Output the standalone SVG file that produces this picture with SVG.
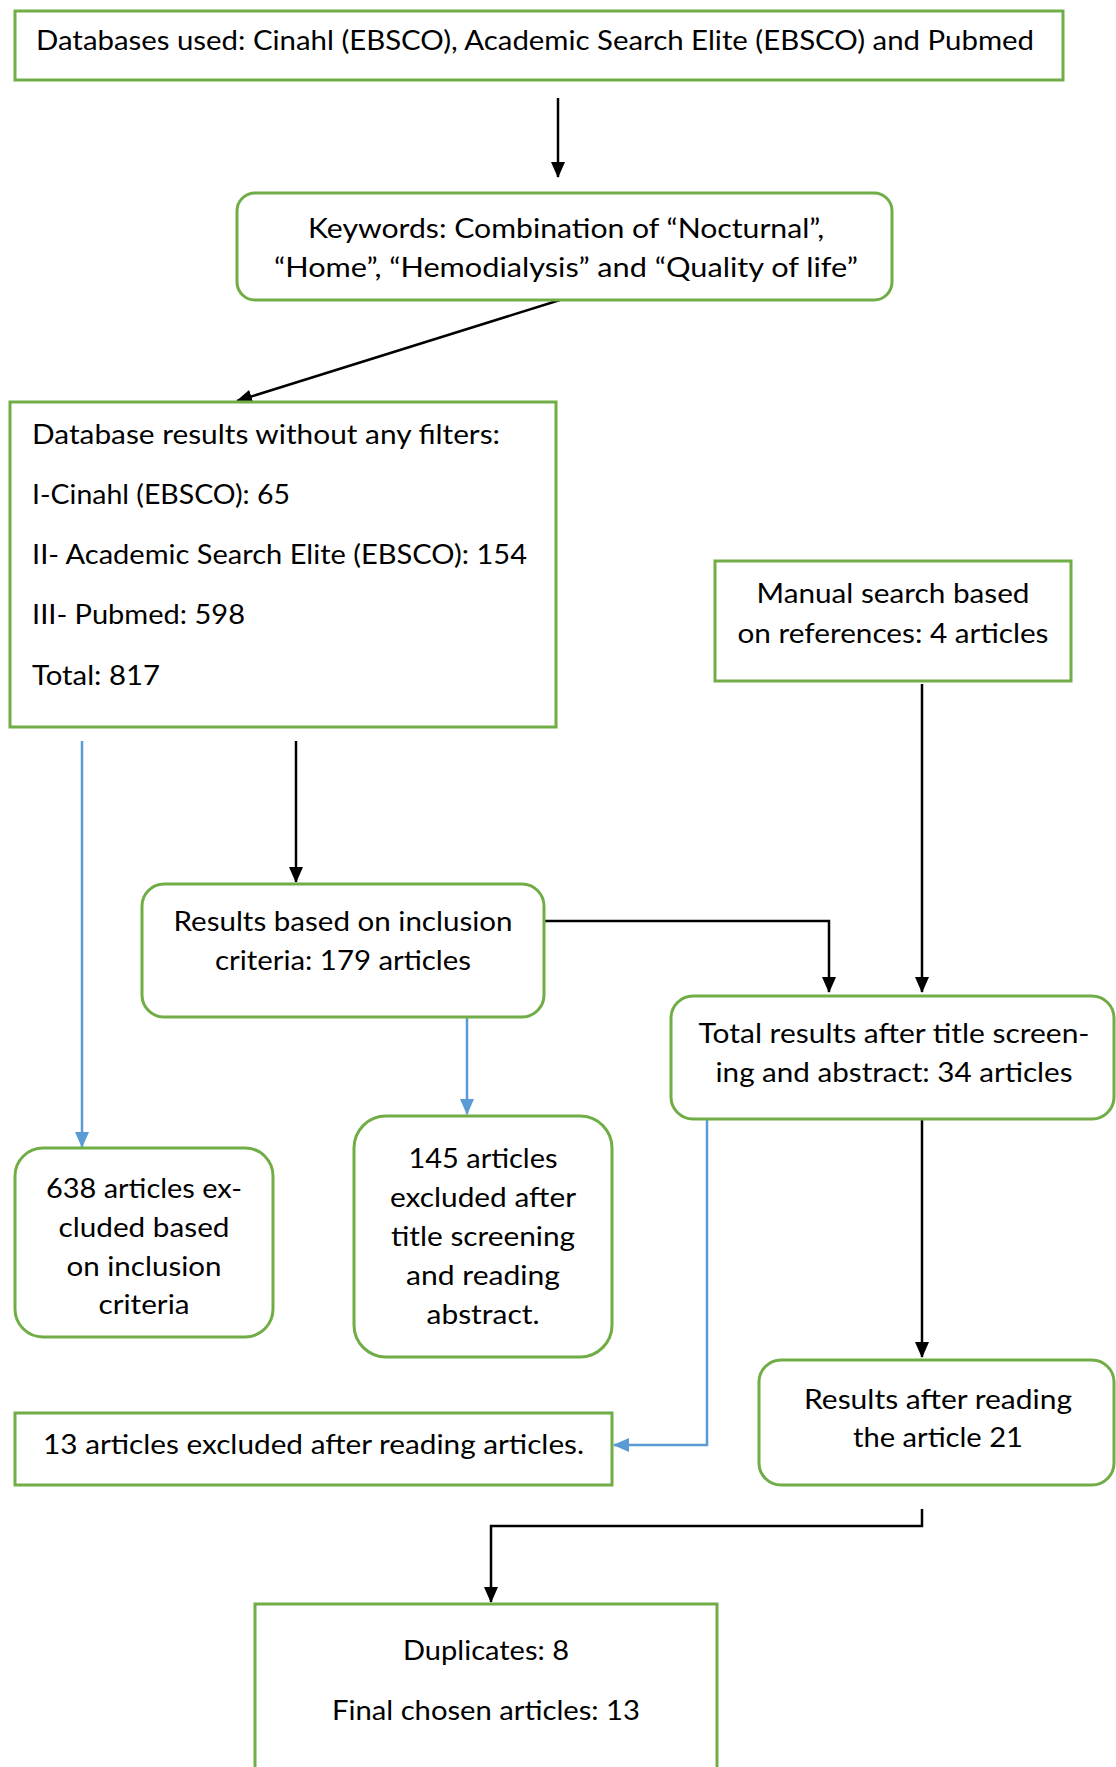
<svg xmlns="http://www.w3.org/2000/svg" width="1116" height="1767" viewBox="0 0 1116 1767">
<style>
.box{fill:#ffffff;stroke:#70AD47;stroke-width:3}
.t{font-family:Lato,"Open Sans","Liberation Sans",sans-serif;font-size:27px;fill:#000000}
.c{text-anchor:middle}
.k{fill:none;stroke:#000000;stroke-width:2.5}
.b{fill:none;stroke:#5B9BD5;stroke-width:2.5}
</style>
<defs>
<marker id="ak" markerUnits="userSpaceOnUse" markerWidth="16" markerHeight="14" viewBox="0 0 16 14" refX="15" refY="7" orient="auto"><path d="M0,0 L16,7 L0,14 z" fill="#000000"/></marker>
<marker id="ab" markerUnits="userSpaceOnUse" markerWidth="16" markerHeight="14" viewBox="0 0 16 14" refX="15" refY="7" orient="auto"><path d="M0,0 L16,7 L0,14 z" fill="#5B9BD5"/></marker>
</defs>
<rect width="1116" height="1767" fill="#ffffff"/>
<g id="connectors">
<line class="k" x1="558" y1="98" x2="558" y2="177" marker-end="url(#ak)"/>
<line class="k" x1="560" y1="300" x2="237" y2="401" marker-end="url(#ak)"/>
<line class="k" x1="296" y1="741" x2="296" y2="882" marker-end="url(#ak)"/>
<line class="b" x1="82" y1="741" x2="82" y2="1147" marker-end="url(#ab)"/>
<polyline class="k" points="544,921 829,921 829,992" marker-end="url(#ak)"/>
<line class="k" x1="922" y1="684" x2="922" y2="992" marker-end="url(#ak)"/>
<line class="b" x1="467" y1="1017" x2="467" y2="1114" marker-end="url(#ab)"/>
<polyline class="b" points="707,1119 707,1445 614,1445" marker-end="url(#ab)"/>
<line class="k" x1="922" y1="1119" x2="922" y2="1357" marker-end="url(#ak)"/>
<polyline class="k" points="922,1509 922,1526 491,1526 491,1602" marker-end="url(#ak)"/>
</g>
<g id="n-databases">
<rect class="box" x="15" y="11" width="1048" height="69"/>
<text class="t" x="36" y="50" textLength="998" lengthAdjust="spacingAndGlyphs">Databases used: Cinahl (EBSCO), Academic Search Elite (EBSCO) and Pubmed</text>
</g>
<g id="n-keywords">
<rect class="box" x="237" y="193" width="655" height="107" rx="18"/>
<text class="t c" x="566" y="238" textLength="516" lengthAdjust="spacingAndGlyphs">Keywords: Combination of “Nocturnal”,</text>
<text class="t c" x="566" y="277" textLength="584" lengthAdjust="spacingAndGlyphs">“Home”, “Hemodialysis” and “Quality of life”</text>
</g>
<g id="n-results-raw">
<rect class="box" x="10" y="402" width="546" height="325"/>
<text class="t" x="32" y="444" textLength="468" lengthAdjust="spacingAndGlyphs">Database results without any filters:</text>
<text class="t" x="32" y="504" textLength="258" lengthAdjust="spacingAndGlyphs">I-Cinahl (EBSCO): 65</text>
<text class="t" x="32" y="564" textLength="495" lengthAdjust="spacingAndGlyphs">II- Academic Search Elite (EBSCO): 154</text>
<text class="t" x="32" y="624" textLength="213" lengthAdjust="spacingAndGlyphs">III- Pubmed: 598</text>
<text class="t" x="32" y="685" textLength="128" lengthAdjust="spacingAndGlyphs">Total: 817</text>
</g>
<g id="n-manual">
<rect class="box" x="715" y="561" width="356" height="120"/>
<text class="t c" x="893" y="603" textLength="273" lengthAdjust="spacingAndGlyphs">Manual search based</text>
<text class="t c" x="893" y="643" textLength="311" lengthAdjust="spacingAndGlyphs">on references: 4 articles</text>
</g>
<g id="n-inclusion">
<rect class="box" x="142" y="884" width="402" height="133" rx="22"/>
<text class="t c" x="343" y="931" textLength="339" lengthAdjust="spacingAndGlyphs">Results based on inclusion</text>
<text class="t c" x="343" y="970" textLength="256" lengthAdjust="spacingAndGlyphs">criteria: 179 articles</text>
</g>
<g id="n-total">
<rect class="box" x="671" y="996" width="443" height="123" rx="22"/>
<text class="t c" x="894" y="1043" textLength="391" lengthAdjust="spacingAndGlyphs">Total results after title screen-</text>
<text class="t c" x="894" y="1082" textLength="357" lengthAdjust="spacingAndGlyphs">ing and abstract: 34 articles</text>
</g>
<g id="n-excl638">
<rect class="box" x="15" y="1148" width="258" height="189" rx="28"/>
<text class="t c" x="144" y="1198" textLength="196" lengthAdjust="spacingAndGlyphs">638 articles ex-</text>
<text class="t c" x="144" y="1237" textLength="171" lengthAdjust="spacingAndGlyphs">cluded based</text>
<text class="t c" x="144" y="1276" textLength="155" lengthAdjust="spacingAndGlyphs">on inclusion</text>
<text class="t c" x="144" y="1314" textLength="91" lengthAdjust="spacingAndGlyphs">criteria</text>
</g>
<g id="n-excl145">
<rect class="box" x="354" y="1116" width="258" height="241" rx="32"/>
<text class="t c" x="483" y="1168" textLength="149" lengthAdjust="spacingAndGlyphs">145 articles</text>
<text class="t c" x="483" y="1207" textLength="186" lengthAdjust="spacingAndGlyphs">excluded after</text>
<text class="t c" x="483" y="1246" textLength="184" lengthAdjust="spacingAndGlyphs">title screening</text>
<text class="t c" x="483" y="1285" textLength="154" lengthAdjust="spacingAndGlyphs">and reading</text>
<text class="t c" x="483" y="1324" textLength="113" lengthAdjust="spacingAndGlyphs">abstract.</text>
</g>
<g id="n-excl13">
<rect class="box" x="15" y="1413" width="597" height="72"/>
<text class="t" x="43" y="1454" textLength="541" lengthAdjust="spacingAndGlyphs">13 articles excluded after reading articles.</text>
</g>
<g id="n-read">
<rect class="box" x="759" y="1360" width="355" height="125" rx="22"/>
<text class="t c" x="938" y="1409" textLength="268" lengthAdjust="spacingAndGlyphs">Results after reading</text>
<text class="t c" x="938" y="1447" textLength="170" lengthAdjust="spacingAndGlyphs">the article 21</text>
</g>
<g id="n-final">
<rect class="box" x="255" y="1604" width="462" height="200"/>
<text class="t c" x="486" y="1660" textLength="166" lengthAdjust="spacingAndGlyphs">Duplicates: 8</text>
<text class="t c" x="486" y="1720" textLength="308" lengthAdjust="spacingAndGlyphs">Final chosen articles: 13</text>
</g>
</svg>
